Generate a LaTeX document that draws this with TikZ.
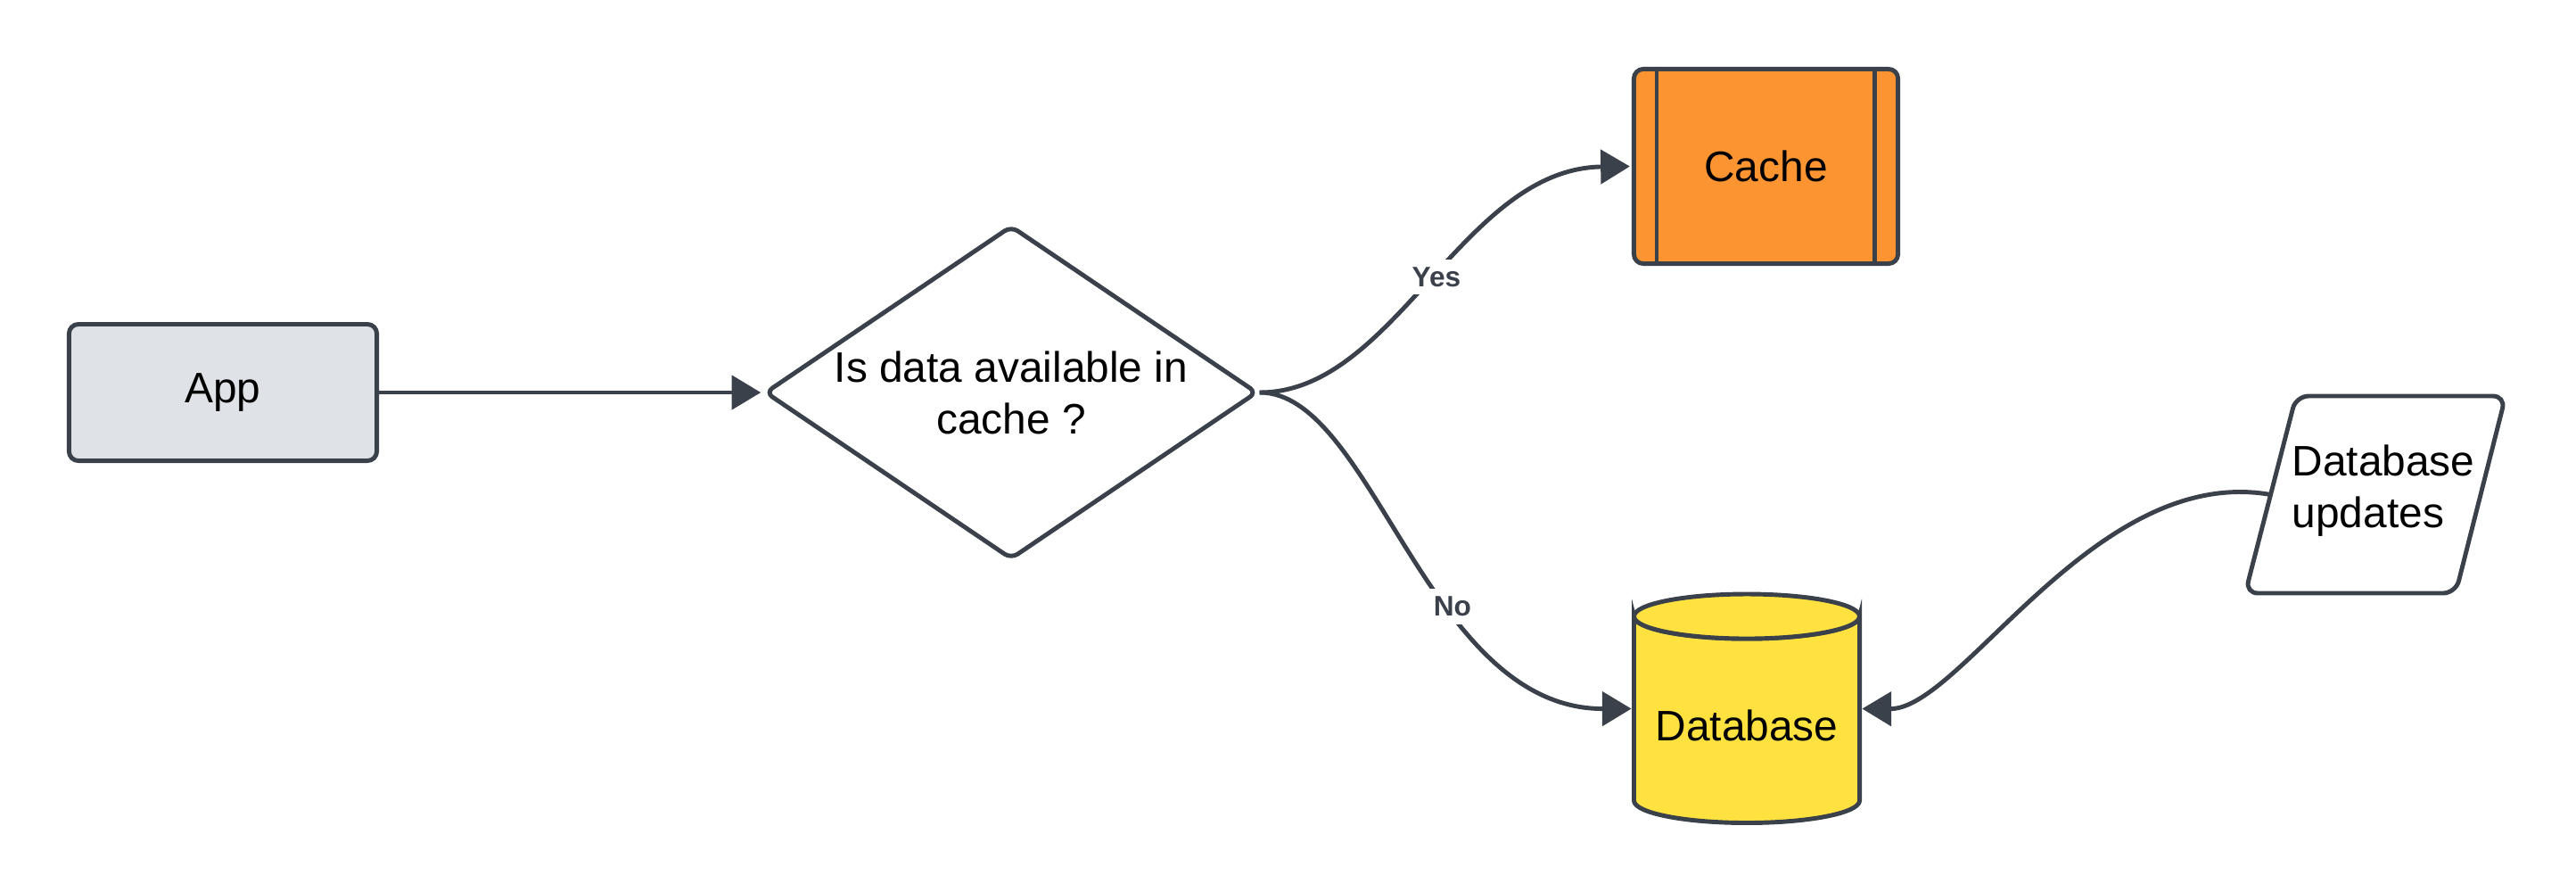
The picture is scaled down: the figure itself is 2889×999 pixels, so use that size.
\documentclass[tikz,border=0pt]{standalone}
\usepackage{fontspec}
\setmainfont{Liberation Sans}
\usetikzlibrary{shapes.geometric,arrows.meta,calc}
\definecolor{linec}{HTML}{3A414A}
\definecolor{appfill}{HTML}{DFE3E8}
\definecolor{cachefill}{HTML}{FC9432}
\definecolor{dbfill}{HTML}{FFE240}
\tikzset{
  shapeline/.style={draw=linec, line width=1.4pt},
  mainfont/.style={font=\fontsize{13.6}{16.5}\selectfont, text=black},
  appbox/.style={shapeline, mainfont, fill=appfill, rounded corners=3pt,
    minimum width=3.45cm, minimum height=1.53cm, inner sep=0pt},
  decbox/.style={shapeline, mainfont, diamond, aspect=1.47, fill=white,
    rounded corners=2.5pt, minimum width=5.52cm, minimum height=3.74cm,
    inner sep=0pt, align=center},
  cachebox/.style={shapeline, mainfont, fill=cachefill, rounded corners=3pt,
    minimum width=2.96cm, minimum height=2.18cm, inner sep=0pt},
  anchorbox/.style={draw=none, minimum width=2.53cm, minimum height=2.31cm, inner sep=0pt},
  plaintext/.style={mainfont, inner sep=0pt},
  conn/.style={draw=linec, line width=1.4pt, shorten >=0.6pt,
    -{Triangle[length=9.3pt,width=10.8pt]}},
  edgelabel/.style={fill=white, inner sep=2.5pt, text=linec,
    font=\fontsize{9}{10}\selectfont\bfseries},
}
\begin{document}
\begin{tikzpicture}[x=0.01cm,y=-0.01cm]
\useasboundingbox (0,0) rectangle (2889,999);

% App
\node[appbox] (app) at (250,440) {App};

% Decision
\node[decbox] (dec) at (1134,440) {Is data available in\\cache ?};

% Cache (predefined process)
\node[cachebox] (cache) at (1980.5,186.5) {Cache};
\draw[shapeline] ([xshift=0.28cm]cache.north west) -- ([xshift=0.28cm]cache.south west);
\draw[shapeline] ([xshift=-0.29cm]cache.north east) -- ([xshift=-0.29cm]cache.south east);

% Database cylinder
\node[anchorbox] (db) at (1959,794.5) {};
\draw[shapeline, fill=dbfill] (1832.5,691) -- (1832.5,897.5)
  arc[start angle=180, end angle=0, x radius=126.5, y radius=25]
  -- (2085.5,691) arc[start angle=0, end angle=180, x radius=126.5, y radius=25] -- cycle;
\draw[shapeline, fill=dbfill] (1959,691) ellipse[x radius=126.5, y radius=25];
\node[plaintext] (dbtext) at (1959,813) {Database};

% Database updates (parallelogram)
\coordinate (pTL) at (2575,444);
\coordinate (pTR) at (2810,444);
\coordinate (pBR) at (2754,665);
\coordinate (pBL) at (2518,665);
\draw[shapeline, fill=white, rounded corners=4pt] (pBL) -- (pTL) -- (pTR) -- (pBR) -- cycle;
\coordinate (upd) at ($(pTL)!0.5!(pBL)$);
\node[plaintext, anchor=west, align=left] (updtext) at (2570,550) {Database\\updates};

% Connectors
\draw[conn] (app.east) -- (dec.west);
\draw[conn] (dec.east) .. controls (1565,440) and (1640,189) .. (cache.west)
  node[edgelabel, pos=0.51] (yes) {Yes};
\draw[conn] (dec.east) .. controls (1540,440) and (1600,795) .. (db.west)
  node[edgelabel, pos=0.62] (no) {No};
\draw[conn] (upd) .. controls (2350,520) and (2200,795) .. (db.east);
\end{tikzpicture}
\end{document}
